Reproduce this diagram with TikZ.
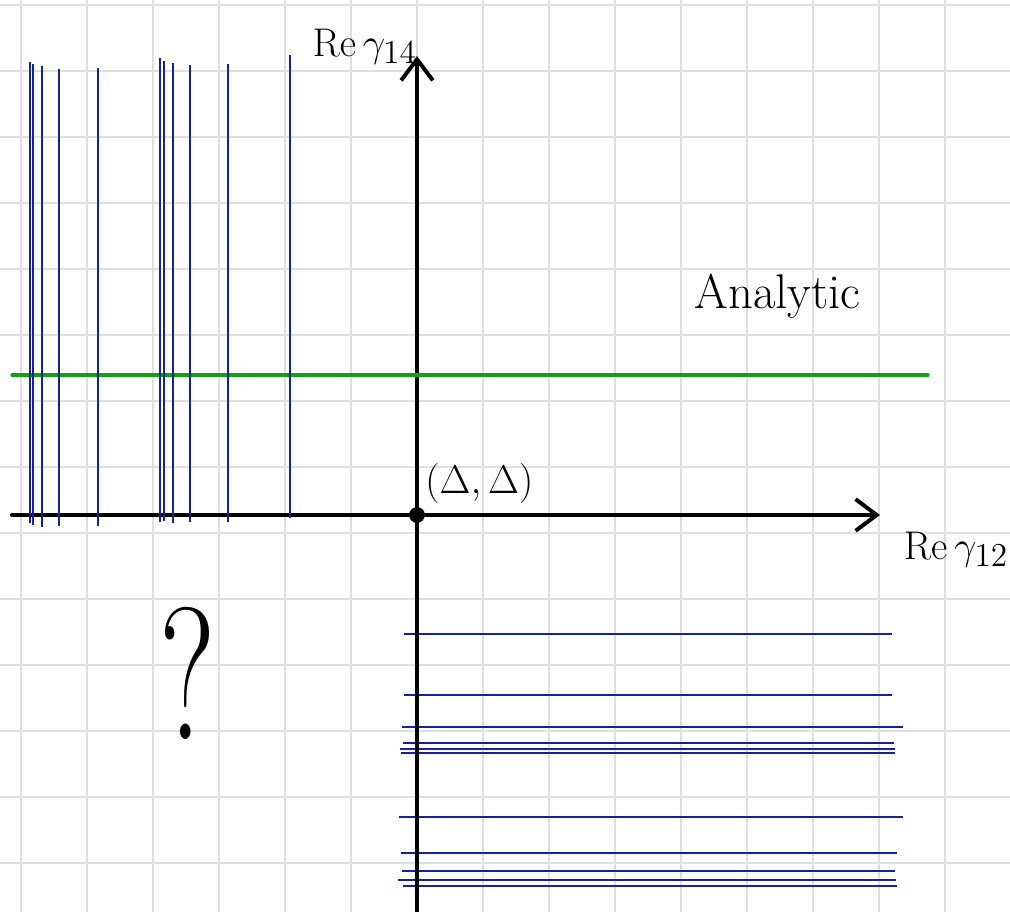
\documentclass[tikz,border=0pt]{standalone}
\usepackage{amsmath}
\usepackage{xcolor}
\usetikzlibrary{arrows.meta}
\definecolor{gridgray}{HTML}{DFDFDF}
\definecolor{polenavy}{HTML}{14239A}
\definecolor{analyticgreen}{HTML}{12A012}
\tikzset{
  gridline/.style={
    draw=gridgray,
    line width=0.6pt,
  },
  axis/.style={
    -{Straight Barb[length=3.2mm,width=4.8mm]},
    draw=black,
    line width=1.7pt,
    line cap=round,
  },
  pole/.style={
    draw=polenavy,
    line width=0.9pt,
  },
  boundary/.style={
    draw=analyticgreen,
    line width=1.4pt,
    line cap=round,
  },
  origin dot/.style={
    circle,
    fill=black,
    inner sep=0pt,
    minimum size=2.4mm,
  },
  hand label/.style={
    text=black,
    inner sep=0pt,
    font=\fontsize{19}{22}\selectfont,
  },
}

\begin{document}
\begin{tikzpicture}[x=1cm,y=1cm]
  \useasboundingbox[fill=white] (-6.318,-6.015) rectangle (8.985,7.803);

  % Background squared paper.
  \foreach \gx in {-6,...,8}{
    \draw[gridline] (\gx,-6.015) -- (\gx,7.803);
  }
  \foreach \gy in {-6,...,7}{
    \draw[gridline] (-6.318,\gy+0.727) -- (8.985,\gy+0.727);
  }

  % Axis end points.
  \coordinate (xbegin) at (-6.136,0);
  \coordinate (xend) at (7.015,0);
  \coordinate (ybegin) at (0,-6.2);
  \coordinate (yend) at (0,6.955);
  \coordinate (gbegin) at (-6.136,2.121);
  \coordinate (gend) at (7.742,2.121);

  \draw[axis] (xbegin) -- (xend);

  % Poles in Re gamma_14 below the y-axis.
  \foreach \hy/\hleft/\hright in {-1.803/-0.197/7.197, -2.727/-0.197/7.197,
      -3.208/-0.223/7.368, -3.459/-0.208/7.227, -3.545/-0.253/7.238,
      -3.602/-0.238/7.238, -4.580/-0.277/7.359, -5.121/-0.242/7.268,
      -5.394/-0.232/7.238, -5.526/-0.283/7.258, -5.621/-0.208/7.268}{
    \draw[pole] (\hleft,\hy) -- (\hright,\hy);
  }

  \draw[axis] (ybegin) -- (yend);

  % Boundary of the analytic region.
  \draw[boundary] (gbegin) -- (gend);

  % Poles in Re gamma_12 left of the y-axis.
  \foreach \vx/\vtop/\vbot in {-5.868/6.868/-0.126, -5.818/6.829/-0.152,
      -5.677/6.798/-0.177, -5.420/6.758/-0.167, -4.838/6.777/-0.167,
      -3.889/6.920/-0.102, -3.838/6.879/-0.091, -3.697/6.853/-0.117,
      -3.439/6.818/-0.102, -2.859/6.833/-0.111, -1.920/6.965/-0.050}{
    \draw[pole] (\vx,\vbot) -- (\vx,\vtop);
  }

  \node[origin dot] (O) at (0,0) {};

  % Labels.
  \node[hand label] (ylabel) at (-0.79,7.10) {$\mathrm{Re}\,\gamma_{14}$};
  \node[hand label] (xlabel) at (8.17,-0.52) {$\mathrm{Re}\,\gamma_{12}$};
  \node[hand label, anchor=base west, font=\fontsize{21}{24}\selectfont]
    (analytic) at (4.20,3.136) {Analytic};
  \node[hand label, anchor=base west, font=\fontsize{18}{21}\selectfont]
    (point) at (0.12,0.333) {$(\Delta,\Delta)$};
  \node[hand label, anchor=base, font=\fontsize{56}{60}\selectfont]
    (unknown) at (-3.47,-3.40) {\scalebox{1}[1.45]{?}};
\end{tikzpicture}
\end{document}
